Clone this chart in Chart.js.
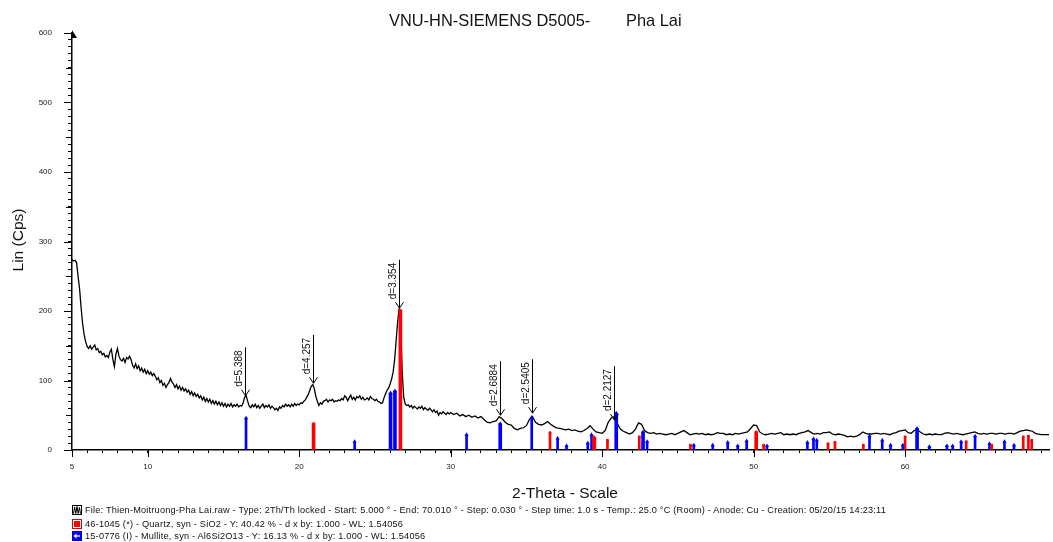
<!DOCTYPE html>
<html>
<head>
<meta charset="utf-8">
<script src="https://cdn.jsdelivr.net/npm/chart.js@4.4.1/dist/chart.umd.min.js"></script>
<style>
  html, body { margin: 0; padding: 0; background: #fff; }
  #wrap { position: relative; width: 1053px; height: 542px; overflow: hidden; font-family: "Liberation Sans", Arial, sans-serif; color: #111; }
  #c { position: absolute; left: 0; top: 0; }
  .t { position: absolute; white-space: pre; }
  #title1 { left: 389px; top: 10px; font-size: 16.4px; line-height: 20px; }
  #title2 { left: 626px; top: 10px; font-size: 16.4px; line-height: 20px; }
  #ytitle { left: -32px; top: 230px; width: 100px; text-align: center; font-size: 15.5px; line-height: 20px; transform: rotate(-90deg); }
  #xtitle { left: 465px; top: 484px; width: 200px; text-align: center; font-size: 15.5px; line-height: 18px; }
  .leg { position: absolute; left: 72px; height: 12px; font-size: 9.2px; line-height: 12px; white-space: pre; letter-spacing: 0.2px; }
  .ico { position: absolute; left: 0; top: 1px; width: 10px; height: 10px; box-sizing: border-box; }
  .leg span.txt { position: absolute; left: 13px; top: 0; }
</style>
</head>
<body>
<div id="wrap">
  <canvas id="c" width="1053" height="542"></canvas>
  <div id="title1" class="t"></div>
  <div id="title2" class="t"></div>
  <div id="ytitle" class="t">Lin (Cps)</div>
  <div id="xtitle" class="t">2-Theta - Scale</div>
  <div class="leg" style="top:504px"><svg class="ico" viewBox="0 0 10 10"><rect x="0.5" y="0.5" width="9" height="9" fill="#fff" stroke="#000"/><polyline points="1.5,8.5 2.6,2 3.8,8.5 5,1.5 6.2,8.5 7.4,2.5 8.5,8.5" fill="none" stroke="#000" stroke-width="1"/></svg><span class="txt" id="leg0"></span></div>
  <div class="leg" style="top:517.5px"><svg class="ico" viewBox="0 0 10 10"><rect x="0.5" y="0.5" width="9" height="9" fill="#fff" stroke="#d00"/><rect x="2" y="2" width="6" height="6" fill="#f00"/></svg><span class="txt" id="leg1"></span></div>
  <div class="leg" style="top:530px"><svg class="ico" viewBox="0 0 10 10"><rect x="0.5" y="0.5" width="9" height="9" fill="#00f" stroke="#00c"/><line x1="3" y1="5" x2="8" y2="5" stroke="#fff" stroke-width="1.3"/><polygon points="1.5,5 4.5,2.5 4.5,7.5" fill="#fff"/></svg><span class="txt" id="leg2"></span></div>
</div>
<script>
// ---------------- DATA ----------------
const titleParts = ["VNU-HN-SIEMENS D5005-", "Pha Lai"];
const legendLines = [
  "File: Thien-Moitruong-Pha Lai.raw - Type: 2Th/Th locked - Start: 5.000 \u00b0 - End: 70.010 \u00b0 - Step: 0.030 \u00b0 - Step time: 1.0 s - Temp.: 25.0 \u00b0C (Room) - Anode: Cu - Creation: 05/20/15 14:23:11",
  "46-1045 (*) - Quartz, syn - SiO2 - Y: 40.42 % - d x by: 1.000 - WL: 1.54056",
  "15-0776 (I) - Mullite, syn - Al6Si2O13 - Y: 16.13 % - d x by: 1.000 - WL: 1.54056"
];

const scanAngle = [
  5.0,5.1,5.2,5.3,5.4,5.5,5.6,5.7,5.8,5.9,
  6.0,6.1,6.2,6.3,6.4,6.5,6.6,6.7,6.8,6.9,
  7.0,7.1,7.2,7.3,7.4,7.5,7.6,7.7,7.8,7.9,
  8.0,8.1,8.2,8.3,8.4,8.5,8.6,8.7,8.8,8.9,
  9.0,9.1,9.2,9.3,9.4,9.5,9.6,9.7,9.8,9.9,
  10.0,10.1,10.2,10.3,10.4,10.5,10.6,10.7,10.8,10.9,
  11.0,11.1,11.2,11.3,11.4,11.5,11.6,11.7,11.8,11.9,
  12.0,12.1,12.2,12.3,12.4,12.5,12.6,12.7,12.8,12.9,
  13.0,13.1,13.2,13.3,13.4,13.5,13.6,13.7,13.8,13.9,
  14.0,14.1,14.2,14.3,14.4,14.5,14.6,14.7,14.8,14.9,
  15.0,15.1,15.2,15.3,15.4,15.5,15.6,15.7,15.8,15.9,
  16.0,16.1,16.2,16.3,16.4,16.5,16.6,16.7,16.8,16.9,
  17.0,17.1,17.2,17.3,17.4,17.5,17.6,17.7,17.8,17.9,
  18.0,18.1,18.2,18.3,18.4,18.5,18.6,18.7,18.8,18.9,
  19.0,19.1,19.2,19.3,19.4,19.5,19.6,19.7,19.8,19.9,
  20.0,20.1,20.2,20.3,20.4,20.5,20.6,20.7,20.8,20.9,
  21.0,21.1,21.2,21.3,21.4,21.5,21.6,21.7,21.8,21.9,
  22.0,22.1,22.2,22.3,22.4,22.5,22.6,22.7,22.8,22.9,
  23.0,23.1,23.2,23.3,23.4,23.5,23.6,23.7,23.8,23.9,
  24.0,24.1,24.2,24.3,24.4,24.5,24.6,24.7,24.8,24.9,
  25.0,25.1,25.2,25.3,25.4,25.5,25.6,25.7,25.8,25.9,
  26.0,26.1,26.2,26.3,26.4,26.5,26.6,26.7,26.8,26.9,
  27.0,27.1,27.2,27.3,27.4,27.5,27.6,27.7,27.8,27.9,
  28.0,28.1,28.2,28.3,28.4,28.5,28.6,28.7,28.8,28.9,
  29.0,29.1,29.2,29.3,29.4,29.5,29.6,29.7,29.8,29.9,
  30.0,30.2,30.4,30.6,30.8,31.0,31.2,31.4,31.6,31.8,
  32.0,32.2,32.4,32.6,32.8,33.0,33.2,33.4,33.6,33.8,
  34.0,34.2,34.4,34.6,34.8,35.0,35.2,35.4,35.6,35.8,
  36.0,36.2,36.4,36.6,36.8,37.0,37.2,37.4,37.6,37.8,
  38.0,38.2,38.4,38.6,38.8,39.0,39.2,39.4,39.6,39.8,
  40.0,40.2,40.4,40.6,40.8,41.0,41.2,41.4,41.6,41.8,
  42.0,42.2,42.4,42.6,42.8,43.0,43.2,43.4,43.6,43.8,
  44.0,44.2,44.4,44.6,44.8,45.0,45.2,45.4,45.6,45.8,
  46.0,46.2,46.4,46.6,46.8,47.0,47.2,47.4,47.6,47.8,
  48.0,48.2,48.4,48.6,48.8,49.0,49.2,49.4,49.6,49.8,
  50.0,50.2,50.4,50.6,50.8,51.0,51.2,51.4,51.6,51.8,
  52.0,52.2,52.4,52.6,52.8,53.0,53.2,53.4,53.6,53.8,
  54.0,54.2,54.4,54.6,54.8,55.0,55.2,55.4,55.6,55.8,
  56.0,56.2,56.4,56.6,56.8,57.0,57.2,57.4,57.6,57.8,
  58.0,58.2,58.4,58.6,58.8,59.0,59.2,59.4,59.6,59.8,
  60.0,60.2,60.4,60.6,60.8,61.0,61.2,61.4,61.6,61.8,
  62.0,62.2,62.4,62.6,62.8,63.0,63.2,63.4,63.6,63.8,
  64.0,64.2,64.4,64.6,64.8,65.0,65.2,65.4,65.6,65.8,
  66.0,66.2,66.4,66.6,66.8,67.0,67.2,67.4,67.6,67.8,
  68.0,68.2,68.4,68.6,68.8,69.0,69.2,69.4,69.6
];
const scanCount = [
  274,272,273,270,250,232,205,182,166,156,
  149,146,150,145,148,151,144,146,140,142,
  137,139,134,136,133,141,145,130,120,138,
  146,135,130,128,132,126,133,131,135,130,
  122,118,124,117,121,114,118,112,116,110,
  114,109,112,107,110,106,101,104,97,100,
  93,96,90,94,97,103,98,95,90,94,
  88,92,86,90,85,88,83,86,80,84,
  78,82,77,80,75,78,72,76,70,74,
  69,73,67,71,66,70,65,69,64,68,
  63,67,62,66,63,67,62,65,63,66,
  62,64,63,68,76,78,70,63,61,65,
  62,66,61,64,60,63,66,61,64,62,
  65,60,63,61,58,60,57,62,60,64,
  62,66,63,65,62,66,63,67,64,66,
  65,68,67,70,72,76,80,86,92,94,
  88,77,70,64,68,66,70,71,73,69,
  72,71,73,69,71,70,72,71,74,72,
  78,76,71,75,79,73,76,72,77,75,
  78,73,76,72,73,75,72,77,74,73,
  71,73,70,69,67,68,75,81,86,89,
  95,102,112,130,158,185,204,178,112,76,
  66,64,65,62,64,60,63,61,59,62,
  60,63,58,61,59,57,60,58,55,58,
  54,56,50,54,52,55,53,51,54,52,
  54,51,53,49,51,48,50,47,49,46,
  48,44,40,39,41,42,48,45,40,37,
  36,31,29,31,32,35,44,48,40,37,
  36,38,41,37,34,32,31,30,29,30,
  28,29,27,26,28,31,35,30,26,25,
  24,28,40,46,48,38,30,27,25,23,
  25,30,39,37,28,25,24,25,23,24,
  23,22,23,24,22,24,26,28,25,22,
  23,24,23,24,22,23,22,23,25,24,
  24,22,23,22,24,23,24,25,26,31,
  36,35,26,23,22,23,24,23,24,25,
  22,23,22,23,22,24,25,26,28,25,
  23,24,23,25,25,26,23,22,23,22,
  21,19,20,19,20,22,26,24,23,23,
  24,24,23,24,23,22,24,25,27,28,
  29,25,24,28,29,26,23,22,23,22,
  23,22,22,24,25,24,23,24,23,22,
  23,24,25,26,24,23,24,23,24,24,
  23,24,24,23,24,24,23,25,27,28,
  29,28,27,24,23,22,22,22,22
];

// Quartz (46-1045) reference sticks
const quartzAngle = [20.95,26.68,36.56,39.43,39.52,40.35,42.45,45.83,50.17,50.66,54.91,55.37,57.24,60.0,64.03,65.72,67.8,68.14,68.36];
const quartzInt   = [38,201,25,19,17,14,19,7,26,7,9,11,7,19,12,7,19,20,14];

// Mullite (15-0776) reference sticks
const mulliteAngle = [16.49,23.66,26.03,26.32,31.05,33.27,35.35,37.06,37.65,39.05,39.3,40.93,42.7,42.97,46.05,47.3,48.29,48.95,49.54,50.88,53.55,53.95,54.17,57.65,58.49,59.04,59.85,60.79,61.6,62.76,63.14,63.7,64.62,65.57,66.56,67.19];
const mulliteInt   = [46,12,82,85,22,38,47,17,6,10,22,53,26,12,7,7,11,6,13,6,11,16,14,20,14,7,7,31,5,6,6,12,20,9,12,7];

// d-spacing annotations
const peakLabels = ["d=5.388","d=4.257","d=3.354","d=2.6884","d=2.5405","d=2.2127"];
const peakAngles = [16.45,20.88,26.62,33.27,35.35,40.79];
const peakTips   = [78,96,204,50,53,43];

// x / y tick labels
const xLabelValues = [5,10,20,30,40,50,60];
const yLabelValues = [0,100,200,300,400,500,600];

// ---------------- CHART ----------------
document.getElementById('title1').textContent = titleParts[0];
document.getElementById('title2').textContent = titleParts[1];
document.getElementById('leg0').textContent = legendLines[0];
document.getElementById('leg1').textContent = legendLines[1];
document.getElementById('leg2').textContent = legendLines[2];

const FONT = '"Liberation Sans", Arial, sans-serif';
Chart.defaults.font.family = FONT;

const scan = scanAngle.map((a, i) => ({ x: a, y: scanCount[i] }));
const isStrong = v => v >= 50 || (v >= 26 && v < 45);
const sticks = (ang, ints, thick) => ang.map((a, i) => ({ x: a, y: ints[i] })).filter(p => thick ? isStrong(p.y) : !isStrong(p.y));

const RED = '#ff0000', BLUE = '#0000ff';
const barBase = { type: 'bar', stack: 'sticks', borderWidth: 0, order: 1, categoryPercentage: 1, barPercentage: 1 };

const axesPlugin = {
  id: 'axesExtra',
  afterDraw(chart) {
    const { ctx, chartArea: ca, scales: { x, y } } = chart;
    ctx.save();
    ctx.strokeStyle = '#000'; ctx.lineWidth = 1;
    ctx.beginPath();
    x.ticks.forEach(t => {
      if (t.value % 10 === 0 || t.value === 5) {
        const px = Math.round(x.getPixelForValue(t.value)) + 0.5;
        ctx.moveTo(px, ca.bottom); ctx.lineTo(px, ca.bottom + 7);
      }
    });
    y.ticks.forEach(t => {
      const py = Math.round(y.getPixelForValue(t.value)) + 0.5;
      if (t.value % 100 === 0) { ctx.moveTo(ca.left - 8, py); ctx.lineTo(ca.left, py); }
      else if (t.value % 50 === 0) { ctx.moveTo(ca.left - 6, py); ctx.lineTo(ca.left, py); }
    });
    ctx.stroke();
    // arrow head at top of y axis
    ctx.fillStyle = '#000';
    ctx.beginPath();
    ctx.moveTo(ca.left, ca.top - 3); ctx.lineTo(ca.left + 5, ca.top + 5); ctx.lineTo(ca.left, ca.top + 5); ctx.closePath();
    ctx.fill();

    // d-spacing labels
    ctx.font = '10px ' + FONT;
    ctx.fillStyle = '#111';
    peakLabels.forEach((lab, i) => {
      const px = Math.round(x.getPixelForValue(peakAngles[i])) + 0.5;
      const py = y.getPixelForValue(peakTips[i]);
      const w = ctx.measureText(lab).width;
      const top = py - w - 12;
      ctx.beginPath();
      ctx.moveTo(px, top); ctx.lineTo(px, py);
      ctx.moveTo(px - 4, py - 6); ctx.lineTo(px, py); ctx.lineTo(px + 4, py - 6);
      ctx.stroke();
      ctx.save();
      ctx.translate(px - 1, py - 9);
      ctx.rotate(-Math.PI / 2);
      ctx.textAlign = 'left'; ctx.textBaseline = 'bottom';
      ctx.fillText(lab, 0, 0);
      ctx.restore();
    });
    ctx.restore();
  }
};

new Chart(document.getElementById('c'), {
  type: 'line',
  data: {
    datasets: [
      Object.assign({}, barBase, { label: 'Quartz', data: sticks(quartzAngle, quartzInt, false), backgroundColor: RED, barThickness: 2 }),
      Object.assign({}, barBase, { label: 'Quartz strong', data: sticks(quartzAngle, quartzInt, true), backgroundColor: RED, barThickness: 3 }),
      Object.assign({}, barBase, { label: 'Mullite', data: sticks(mulliteAngle, mulliteInt, false), backgroundColor: BLUE, barThickness: 2 }),
      Object.assign({}, barBase, { label: 'Mullite strong', data: sticks(mulliteAngle, mulliteInt, true), backgroundColor: BLUE, barThickness: 3 }),
      { type: 'line', stack: 'qm', label: 'Quartz marks', data: quartzAngle.map((a, i) => ({ x: a, y: quartzInt[i] })), showLine: false, pointStyle: 'rect', pointRadius: 1.8, pointBackgroundColor: RED, pointBorderColor: RED, pointBorderWidth: 0, order: 0 },
      { type: 'line', stack: 'mm', label: 'Mullite marks', data: mulliteAngle.map((a, i) => ({ x: a, y: mulliteInt[i] })), showLine: false, pointStyle: 'triangle', pointRadius: 2.4, pointBackgroundColor: BLUE, pointBorderColor: BLUE, pointBorderWidth: 0, order: 0 },
      { type: 'line', stack: 'scan', label: 'Scan', data: scan, borderColor: '#000', borderWidth: 1.3, pointRadius: 0, tension: 0, fill: false, order: 2 }
    ]
  },
  options: {
    responsive: false,
    animation: false,
    devicePixelRatio: 1,
    layout: { padding: { top: 33, right: 0, bottom: 0, left: 0 } },
    plugins: { legend: { display: false }, tooltip: { enabled: false }, title: { display: false } },
    scales: {
      x: {
        type: 'linear', min: 5, max: 69.5, offset: false,
        grid: { display: true, drawOnChartArea: false, drawTicks: true, tickLength: 3, color: '#000', offset: false },
        border: { display: true, color: '#000', width: 1.5 },
        ticks: {
          stepSize: 1, autoSkip: false, maxRotation: 0, includeBounds: false, maxTicksLimit: 200,
          padding: 9, color: '#222', font: { size: 8 },
          callback: v => xLabelValues.includes(v) ? String(v) : ''
        },
        afterFit: s => { s.height = 92; }
      },
      y: {
        type: 'linear', min: 0, max: 600, stacked: true,
        grid: { display: true, drawOnChartArea: false, drawTicks: true, tickLength: 4, color: '#000' },
        border: { display: true, color: '#000', width: 1.5 },
        ticks: {
          stepSize: 10, autoSkip: false, maxTicksLimit: 200, padding: 16, color: '#222', font: { size: 8 },
          callback: v => yLabelValues.includes(v) ? String(v) : ''
        },
        afterFit: s => { s.width = 72; }
      }
    }
  },
  plugins: [axesPlugin]
});
</script>
</body>
</html>
